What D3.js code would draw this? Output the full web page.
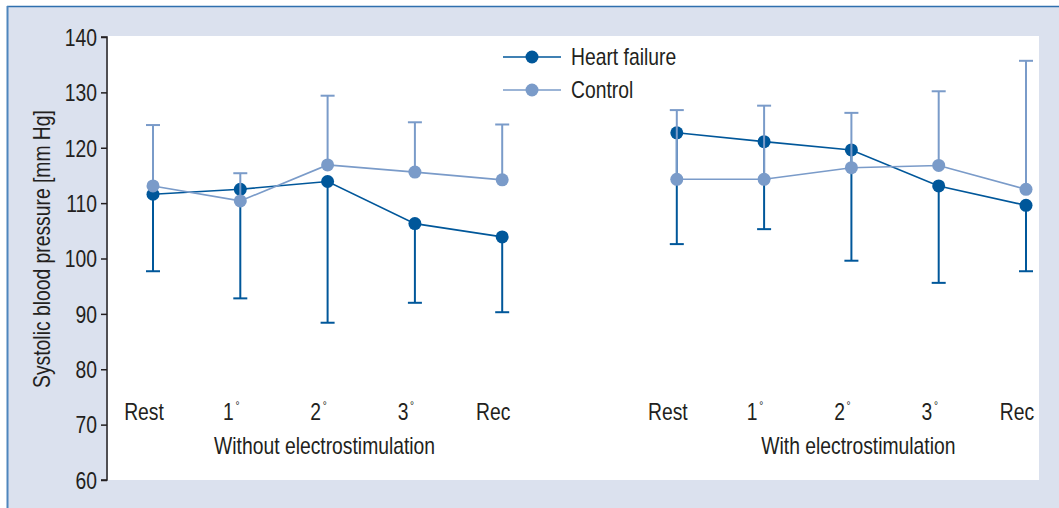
<!DOCTYPE html>
<html>
<head>
<meta charset="utf-8">
<script src="https://cdn.jsdelivr.net/npm/d3@7"></script>
<style>
  html, body { margin: 0; padding: 0; background: #fff; }
  svg { display: block; }
  text { font-family: "Liberation Sans", Arial, sans-serif; fill: #231f20; }
</style>
</head>
<body>
<svg id="chart" width="1059" height="508"></svg>
<script>
// stages within each group
const stages = ["Rest", "1", "2", "3", "Rec"];
const groups = ["Without electrostimulation", "With electrostimulation"];
const yTicks = [60, 70, 80, 90, 100, 110, 120, 130, 140];

// heart failure: means and lower error bar ends (left group, then right group)
const hfMean = [111.6, 112.5, 113.9, 106.3, 103.9, 122.7, 121.1, 119.6, 113.1, 109.6];
const hfLow = [97.7, 92.8, 88.4, 92.0, 90.3, 102.6, 105.3, 99.6, 95.6, 97.7];
// control: means and upper error bar ends
const ctlMean = [113.1, 110.4, 116.9, 115.6, 114.2, 114.3, 114.3, 116.4, 116.8, 112.5];
const ctlHigh = [124.1, 115.4, 129.4, 124.6, 124.2, 126.8, 127.6, 126.3, 130.2, 135.7];

const dark = "#00579a";
const light = "#7a9bc9";
const FS = 23;      // font size
const SX = 0.84;    // horizontal squeeze to mimic a condensed face

const svg = d3.select("#chart");
const W = 1059, H = 508;

// places a condensed text at (x, y)
function label(parent, x, y, anchor, rotate) {
  return parent.append("text")
    .attr("transform", `translate(${x},${y})${rotate ? ` rotate(${rotate})` : ""} scale(${SX},1)`)
    .attr("text-anchor", anchor).attr("font-size", FS);
}

// frame
svg.append("rect").attr("x", 7).attr("y", 6).attr("width", W - 7).attr("height", H - 6).attr("fill", "#dbe1ee");
svg.append("line").attr("x1", 7).attr("x2", W).attr("y1", 6.5).attr("y2", 6.5).attr("stroke", "#2f6fae").attr("stroke-width", 1.5);
svg.append("line").attr("x1", 7.5).attr("x2", 7.5).attr("y1", 6).attr("y2", H).attr("stroke", "#4f86bd").attr("stroke-width", 2);

const plot = { left: 108, right: 1039, top: 36, bottom: 480 };
svg.append("rect").attr("x", plot.left).attr("y", plot.top)
  .attr("width", plot.right - plot.left).attr("height", plot.bottom - plot.top).attr("fill", "#fff");

const y = d3.scaleLinear().domain([60, 140]).range([480, 37]);
// 11 slots, slot 5 left empty between the groups
const slot = i => i < 5 ? i : i + 1;
const x = d3.scaleLinear().domain([0, 10]).range([153, 1026]);

// y axis
const yAxis = svg.append("g").attr("transform", "translate(107,0)")
  .call(d3.axisLeft(y).tickValues(yTicks).tickSize(6).tickPadding(10));
yAxis.select(".domain").attr("stroke", "#231f20").attr("stroke-width", 1.5)
  .attr("d", `M-6,${y(140)}H0V${y(60)}H-6`);
yAxis.selectAll(".tick line").attr("stroke", "#231f20").attr("stroke-width", 1.5);
yAxis.selectAll(".tick text")
  .attr("font-size", FS).attr("fill", "#231f20")
  .attr("font-family", "Liberation Sans, Arial, sans-serif")
  .attr("x", null).attr("dy", "0.36em")
  .attr("transform", `translate(-10,0) scale(${SX},1)`);

label(svg, 50, 249, "middle", -90).text("Systolic blood pressure [mm Hg]");

// category labels
const labelShift = -9;
const groupShift = [-3, 7];
groups.forEach((g, gi) => {
  stages.forEach((s, si) => {
    const t = label(svg, x(slot(gi * 5 + si)) + labelShift, 420, "middle");
    if (s === "Rest" || s === "Rec") {
      t.text(s);
    } else {
      t.append("tspan").text(s);
      t.append("tspan").attr("dy", -10).attr("dx", 2).attr("font-size", 12).text("°");
    }
  });
  label(svg, (x(slot(gi * 5)) + x(slot(gi * 5 + 4))) / 2 + groupShift[gi], 454, "middle").text(g);
});

function drawSeries(mean, ends, color) {
  const line = d3.line().x(d => x(slot(d.i))).y(d => y(d.v));
  const pts = mean.map((v, i) => ({ i, v, e: ends[i] }));
  const g = svg.append("g");
  // error bars
  pts.forEach(p => {
    const cx = x(slot(p.i));
    g.append("line").attr("x1", cx).attr("x2", cx).attr("y1", y(p.v)).attr("y2", y(p.e))
      .attr("stroke", color).attr("stroke-width", 2);
    g.append("line").attr("x1", cx - 7).attr("x2", cx + 7).attr("y1", y(p.e)).attr("y2", y(p.e))
      .attr("stroke", color).attr("stroke-width", 2);
  });
  [pts.slice(0, 5), pts.slice(5)].forEach(part => {
    g.append("path").attr("d", line(part)).attr("fill", "none")
      .attr("stroke", color).attr("stroke-width", 1.6);
  });
  g.selectAll("circle").data(pts).join("circle")
    .attr("cx", d => x(slot(d.i))).attr("cy", d => y(d.v)).attr("r", 6.5)
    .attr("fill", color);
}

drawSeries(hfMean, hfLow, dark);
drawSeries(ctlMean, ctlHigh, light);

// legend
const legend = [["Heart failure", dark, 57], ["Control", light, 90]];
legend.forEach(([name, c, ly]) => {
  svg.append("line").attr("x1", 503).attr("x2", 561).attr("y1", ly).attr("y2", ly)
    .attr("stroke", c).attr("stroke-width", 1.6);
  svg.append("circle").attr("cx", 532).attr("cy", ly).attr("r", 6.5).attr("fill", c);
  label(svg, 571, ly + 8, "start").text(name);
});
</script>
</body>
</html>
